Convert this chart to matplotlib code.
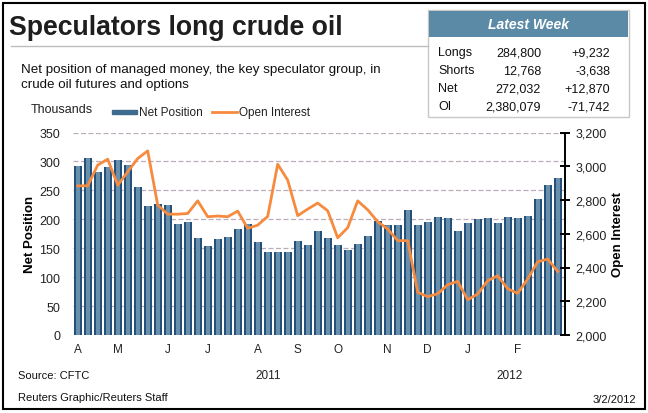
import matplotlib.pyplot as plt
from matplotlib.patches import Rectangle
from matplotlib.lines import Line2D
from matplotlib.ticker import FuncFormatter, MultipleLocator
from matplotlib.transforms import blended_transform_factory

plt.rcParams['font.family'] = ['Liberation Sans', 'DejaVu Sans']

# weekly values, Mar 29 2011 .. Feb 28 2012
net_position = [292, 306, 281, 290, 302, 294, 256, 223, 226, 225,
                192, 195, 168, 154, 166, 169, 183, 191, 161, 143,
                143, 143, 162, 155, 180, 168, 155, 147, 157, 171,
                197, 190, 190, 216, 190, 195, 204, 202, 180, 193,
                200, 202, 193, 204, 202, 206, 235, 259, 272]
open_interest = [2884, 2884, 3007, 3042, 2888, 2967, 3046, 3091, 2770, 2716,
                 2716, 2720, 2795, 2701, 2705, 2701, 2734, 2632, 2651, 2703,
                 3012, 2918, 2707, 2746, 2782, 2736, 2576, 2636, 2795, 2742,
                 2671, 2628, 2559, 2559, 2253, 2227, 2245, 2298, 2318, 2209,
                 2243, 2322, 2351, 2274, 2247, 2332, 2434, 2450, 2377]

month_labels = ['A', 'M', 'J', 'J', 'A', 'S', 'O', 'N', 'D', 'J', 'F']
month_weeks = [0, 4, 9, 13, 18, 22, 26, 31, 35, 39, 44]
year_labels = ['2011', '2012']
year_weeks = [19, 43.2]

row_names = ['Longs', 'Shorts', 'Net', 'OI']
row_values = ['284,800', '12,768', '272,032', '2,380,079']
row_changes = ['+9,232', '-3,638', '+12,870', '-71,742']

W, H = 648, 414
fig = plt.figure(figsize=(W / 100, H / 100), dpi=100)


def fx(x):
    return x / W


def fy(y):
    return 1 - y / H


# main axes
ax = fig.add_axes([fx(72.7), fy(336), fx(564.7) - fx(72.7), fy(133.5) - fy(336)])
weeks = list(range(len(net_position)))
ax.bar(weeks, net_position, width=0.78, color='#24507a', zorder=2)
ax.bar(weeks, net_position, width=0.40, color='#6890ad', zorder=2)
ax.set_xlim(-0.5, 48.7)
ax.set_ylim(0, 350)
ax.yaxis.set_major_locator(MultipleLocator(50))
ax.grid(axis='y', color='#bbaebb', linestyle=(0, (4, 2)), linewidth=0.9)
ax.set_axisbelow(True)
for s in ax.spines.values():
    s.set_visible(False)
ax.tick_params(axis='y', length=0, pad=9, labelsize=9, labelcolor='#222222')
ax.set_xticks(month_weeks)
ax.set_xticklabels(month_labels)
ax.tick_params(axis='x', length=0, pad=6, labelsize=8.5, labelcolor='#222222')
ax.set_ylabel('Net Position', fontweight='bold', fontsize=9.5, labelpad=2)

ax2 = ax.twinx()
ax2.plot(weeks, open_interest, color='#f68b3f', lw=2, solid_joinstyle='round')
ax2.set_ylim(2000, 3200)
ax2.yaxis.set_major_locator(MultipleLocator(200))
ax2.yaxis.set_major_formatter(FuncFormatter(lambda v, p: f'{v:,.0f}'))
for side in ['left', 'top', 'bottom']:
    ax2.spines[side].set_visible(False)
ax2.spines['right'].set_linewidth(1.4)
ax2.tick_params(axis='y', direction='inout', length=7, width=1.4, pad=4,
                labelsize=9, labelcolor='#222222')
ax2.set_ylabel('Open Interest', fontweight='bold', fontsize=9.5, labelpad=4)

# years under the months
tr = blended_transform_factory(ax.transData, fig.transFigure)
for lab, wk in zip(year_labels, year_weeks):
    fig.text(wk, fy(376), lab, transform=tr, ha='center', va='center', fontsize=8.5, color='#222222')

# title block
fig.text(fx(9), fy(28), 'Speculators long crude oil', fontsize=19.2, fontweight='bold',
         color='#1e1e1e', va='center')
fig.add_artist(Line2D([fx(11), fx(428)], [fy(47), fy(47)], color='#bdbdbd', lw=1))
fig.text(fx(21), fy(70), 'Net position of managed money, the key speculator group, in',
         fontsize=9.6, va='center', color='#111111')
fig.text(fx(21), fy(85), 'crude oil futures and options', fontsize=9.6, va='center', color='#111111')
fig.text(fx(31), fy(110), 'Thousands', fontsize=9, va='center', color='#222222')

# legend
fig.add_artist(Rectangle((fx(112), fy(115)), fx(25), fy(111) - fy(115), color='#3f6b8e'))
fig.text(fx(139), fy(113), 'Net Position', fontsize=8.5, va='center', color='#222222')
fig.add_artist(Line2D([fx(212), fx(237)], [fy(113), fy(113)], color='#f68b3f', lw=2))
fig.text(fx(239), fy(113), 'Open Interest', fontsize=8.5, va='center', color='#222222')

# latest week box
fig.add_artist(Rectangle((fx(428), fy(118)), fx(629) - fx(428), fy(11) - fy(118),
                         facecolor='white', edgecolor='#c8c8c8', lw=1))
fig.add_artist(Rectangle((fx(429), fy(38)), fx(628) - fx(429), fy(12) - fy(38),
                         facecolor='#5b8aa7', edgecolor='none'))
fig.text(fx(528), fy(25), 'Latest Week', fontsize=10, fontweight='bold', style='italic',
         color='white', ha='center', va='center')
for k, (name, val, chg) in enumerate(zip(row_names, row_values, row_changes)):
    y = fy(53 + k * 18)
    fig.text(fx(438), y, name, fontsize=9, va='center', color='#111111')
    fig.text(fx(541), y, val, fontsize=9, va='center', ha='right', color='#111111')
    fig.text(fx(610), y, chg, fontsize=9, va='center', ha='right', color='#111111')

# footer
fig.text(fx(18), fy(376), 'Source: CFTC', fontsize=8, va='center', color='#111111')
fig.text(fx(18), fy(398), 'Reuters Graphic/Reuters Staff', fontsize=8, va='center', color='#111111')
fig.text(fx(636), fy(400), '3/2/2012', fontsize=8, va='center', ha='right', color='#111111')

# outer frame
fig.add_artist(Rectangle((fx(3), fy(410)), fx(645) - fx(3), fy(4) - fy(410),
                         facecolor='none', edgecolor='black', lw=1.5))

fig.savefig('out.png', dpi=100)
